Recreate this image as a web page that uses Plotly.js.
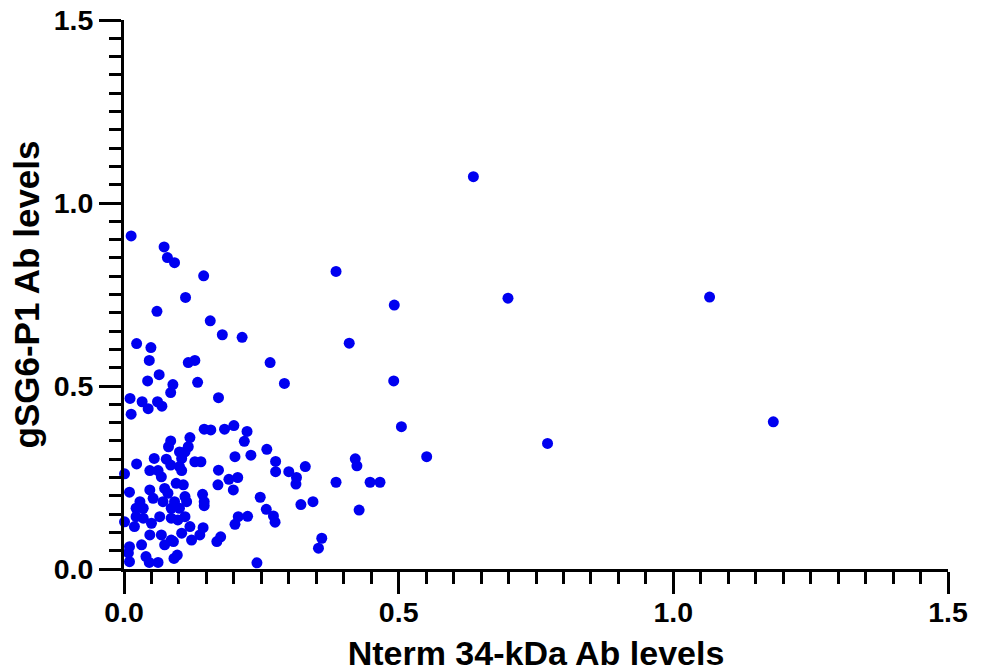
<!DOCTYPE html>
<html>
<head>
<meta charset="utf-8">
<script src="https://cdn.plot.ly/plotly-3.0.1.min.js"></script>
<style>html,body{margin:0;padding:0;background:#fff;}#chart{width:981px;height:672px;}</style>
</head>
<body>
<div id="chart"></div>
<script>
// Nterm 34-kDa Ab levels (x) vs gSG6-P1 Ab levels (y)
var ntermLevels = [
0.636,0.386,0.492,0.699,1.066,0.410,0.491,0.505,0.771,1.182,0.551,
0.013,0.073,0.079,0.092,0.145,0.112,0.060,0.157,0.179,0.215,0.023,0.049,0.046,0.117,0.129,0.266,
0.064,0.043,0.089,0.134,0.292,0.085,0.172,0.011,0.033,0.061,0.069,0.044,0.013,
0.146,0.158,0.183,0.200,0.224,0.219,0.231,0.260,0.276,0.276,0.300,0.314,0.313,0.330,0.386,
0.421,0.424,0.448,0.466,0.428,0.248,0.259,0.272,0.275,0.322,0.344,0.360,0.354,0.242,0.225,
0.208,0.202,0.169,0.176,
0.085,0.081,0.055,0.023,0.077,0.085,0.101,0.001,0.047,0.062,0.068,0.101,0.120,0.117,0.111,
0.105,0.129,0.140,0.202,0.172,0.105,0.191,0.207,0.199,0.171,0.108,0.111,0.114,0.143,0.146,
0.146,0.111,0.120,0.144,0.138,0.123,0.105,0.097,0.091,0.090,
0.010,0.047,0.053,0.029,0.022,0.035,0.074,0.080,0.071,0.092,0.086,0.001,0.022,0.035,0.019,
0.050,0.065,0.086,0.098,0.047,0.068,0.086,0.074,0.010,0.032,0.008,0.010,0.040,0.046,0.062,
0.095,0.101
];
var gsg6Levels = [
1.072,0.813,0.721,0.740,0.743,0.617,0.514,0.389,0.343,0.402,0.307,
0.910,0.880,0.851,0.837,0.801,0.742,0.704,0.678,0.640,0.633,0.616,0.605,0.570,0.564,0.570,0.564,
0.531,0.514,0.504,0.510,0.507,0.482,0.468,0.466,0.457,0.457,0.445,0.438,0.423,
0.382,0.380,0.382,0.392,0.376,0.349,0.311,0.327,0.294,0.266,0.266,0.250,0.232,0.280,0.237,
0.301,0.282,0.237,0.237,0.161,0.196,0.163,0.145,0.128,0.176,0.184,0.084,0.057,0.017,0.144,
0.143,0.122,0.075,0.088,
0.350,0.334,0.302,0.287,0.300,0.284,0.320,0.260,0.269,0.269,0.252,0.280,0.359,0.334,0.320,
0.302,0.293,0.293,0.307,0.270,0.269,0.245,0.250,0.216,0.230,0.230,0.198,0.184,0.204,0.184,
0.173,0.143,0.116,0.113,0.093,0.079,0.098,0.038,0.029,0.075,
0.210,0.216,0.193,0.184,0.166,0.166,0.220,0.207,0.184,0.184,0.166,0.129,0.143,0.139,0.116,
0.125,0.143,0.139,0.134,0.093,0.093,0.079,0.066,0.061,0.066,0.044,0.020,0.034,0.018,0.018,
0.234,0.166
];
var axisTickVals = [0, 0.5, 1.0, 1.5];
var axisTickText = ['0.0', '0.5', '1.0', '1.5'];

var trace = {
  x: ntermLevels,
  y: gsg6Levels,
  type: 'scatter',
  mode: 'markers',
  cliponaxis: false,
  marker: {size: 11, color: 'rgb(0,0,240)', line: {width: 0}},
  hoverinfo: 'x+y'
};

var tickFont = {family: 'Liberation Sans, Arial, sans-serif', size: 28.5, color: '#000', weight: 700};

function axisCfg(titleText, titleSize, standoff, labelStandoff) {
  return {
    range: [0, 1.5],
    tickmode: 'array',
    tickvals: axisTickVals,
    ticktext: axisTickText,
    ticks: 'outside',
    ticklen: 22,
    tickwidth: 3,
    tickcolor: '#000',
    showline: true,
    linewidth: 3,
    linecolor: '#000',
    showgrid: false,
    zeroline: false,
    tickfont: tickFont,
    ticklabelstandoff: labelStandoff,
    minor: {dtick: 0.05, tick0: 0, ticks: 'outside', ticklen: 12, tickwidth: 3, tickcolor: '#000', showgrid: false},
    title: {text: titleText, font: {family: 'Liberation Sans, Arial, sans-serif', size: titleSize, color: '#000', weight: 700}, standoff: standoff},
    fixedrange: true
  };
}

var layout = {
  width: 981,
  height: 672,
  margin: {l: 124, r: 33, t: 20, b: 103, pad: 0},
  paper_bgcolor: '#fff',
  plot_bgcolor: '#fff',
  showlegend: false,
  xaxis: axisCfg('Nterm 34-kDa Ab levels', 34, 14, -6),
  yaxis: axisCfg('gSG6-P1 Ab levels', 35, 4, 0)
};

Plotly.newPlot('chart', [trace], layout, {displayModeBar: false, staticPlot: true});
</script>
</body>
</html>
